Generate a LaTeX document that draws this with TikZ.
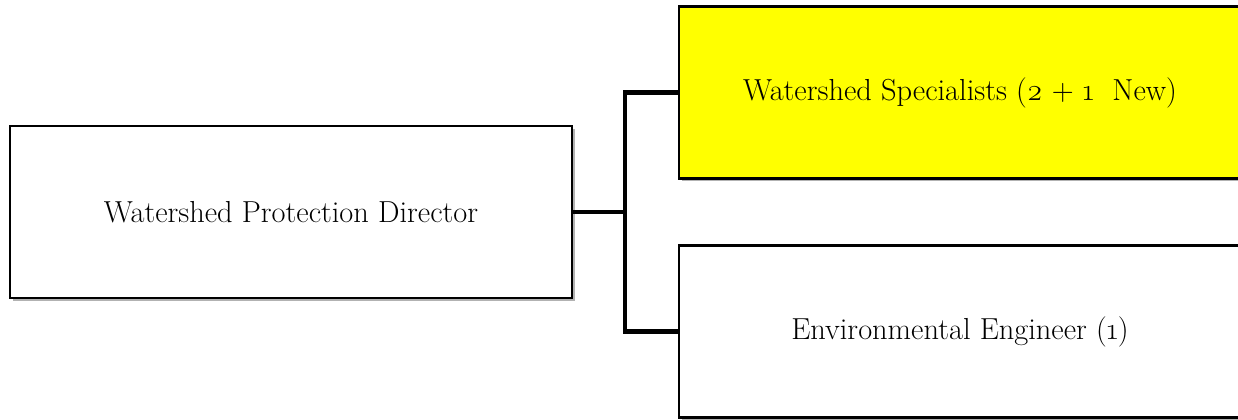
\documentclass[tikz,border=0pt]{standalone}
\usepackage{fontspec}
\setmainfont{Latin Modern Roman}[Numbers=OldStyle]
\usetikzlibrary{shadows}
\definecolor{boxyellow}{RGB}{255,255,0}
\begin{document}
\begin{tikzpicture}[x=0.5pt,y=-0.5pt,
  orgbox/.style={draw=black, line width=1.1pt, minimum width=281pt, minimum height=86pt,
    inner sep=0pt, font=\fontsize{15.2}{18}\selectfont,
    drop shadow={shadow xshift=1.3pt, shadow yshift=-1.3pt, opacity=0.3, fill=black}},
  link/.style={draw=black, line width=2.3pt}]
\useasboundingbox (0,0) rectangle (1238,419);
\clip (0,0) rectangle (1238,419);
\node[orgbox, fill=white] (dir) at (291,212) {Watershed Protection Director};
\node[orgbox, fill=boxyellow] (spec) at (960,92.5) {Watershed Specialists (2 + 1\ \ New)};
\node[orgbox, fill=white] (eng) at (960,331.5) {Environmental Engineer (1)};
\coordinate (j) at (625,212);
\draw[link] (dir.east) -- (j);
\draw[link] (j) |- (spec.west);
\draw[link] (j) |- (eng.west);
\end{tikzpicture}
\end{document}
